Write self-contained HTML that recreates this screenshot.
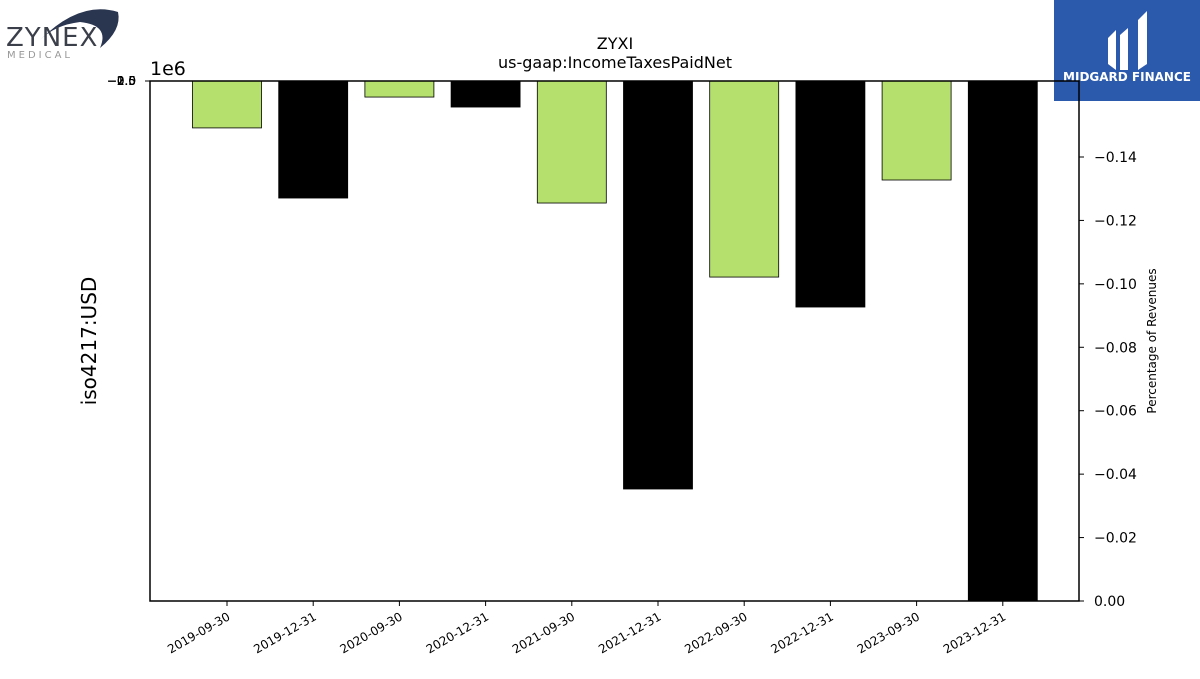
<!DOCTYPE html>
<html><head><meta charset="utf-8"><style>
body{margin:0;background:#fff;width:1200px;height:675px;overflow:hidden;font-family:"DejaVu Sans","Liberation Sans",sans-serif;}
</style></head><body>
<svg width="1200" height="675" id="chart" xmlns="http://www.w3.org/2000/svg" font-family="DejaVu Sans, Liberation Sans, sans-serif">
<g>
<path d="M40,40 Q80,0 118,12 Q122,30 100,48 Q110,25 80,22 Q55,25 40,40Z" fill="#2a3550"/>
<text x="6" y="46" font-size="26" fill="#3a3f4a" letter-spacing="1">ZYNEX</text>
<text x="7" y="58" font-size="10" fill="#999" letter-spacing="3">MEDICAL</text>
</g>
<g>
<rect x="1054" y="0" width="146" height="101" fill="#2b5aad"/>
<path d="M1108,38 L1116,30 L1116,70 L1108,64Z M1120,35 L1128,28 L1128,70 L1120,70Z M1138,20 L1147,11 L1147,64 L1138,70Z" fill="#fff"/>
<text x="1127" y="81" font-size="12" font-weight="bold" fill="#fff" text-anchor="middle">MIDGARD FINANCE</text>
</g>
<text x="615" y="49" font-size="16" text-anchor="middle">ZYXI</text>
<text x="615" y="68" font-size="16" text-anchor="middle">us-gaap:IncomeTaxesPaidNet</text>
<text x="150" y="75" font-size="19">1e6</text>
<g id="bars"></g>
<g id="axes"></g>
<text transform="translate(96,341) rotate(-90)" font-size="20" text-anchor="middle">iso4217:USD</text>
<text transform="translate(1156,341) rotate(-90)" font-size="12" text-anchor="middle">Percentage of Revenues</text>
</svg>
<script>
const categories=["2019-09-30","2019-12-31","2020-09-30","2020-12-31","2021-09-30","2021-12-31","2022-09-30","2022-12-31","2023-09-30","2023-12-31"];
const values=[-0.263e6,-0.656e6,-0.090e6,-0.146e6,-0.684e6,-2.287e6,-1.099e6,-1.267e6,-0.555e6,-2.95e6];
const leftTicks=[0,-0.5,-1.0,-1.5,-2.0,-2.5];
const leftTickLabels=["0.0","\u22120.5","\u22121.0","\u22121.5","\u22122.0","\u22122.5"];
const rightTicks=[0,-0.02,-0.04,-0.06,-0.08,-0.10,-0.12,-0.14];
const rightTickLabels=["0.00","\u22120.02","\u22120.04","\u22120.06","\u22120.08","\u22120.10","\u22120.12","\u22120.14"];
const X0=150,X1=1079,Y0=81,Y1=601;
const yL=v=>Y0+(-v/1e6)*178.4;
const yR=v=>Y1-(-v/0.02)*63.43;
const step=86.2,first=227;
const xC=i=>first+i*step;
const NS="http://www.w3.org/2000/svg";
const bars=document.getElementById('bars'),axes=document.getElementById('axes');
function mk(tag,a,p){const e=document.createElementNS(NS,tag);for(const k in a)e.setAttribute(k,a[k]);p.appendChild(e);return e;}
values.forEach((v,i)=>{
 const y=Math.min(yL(v),Y1);
 const r=mk('rect',{x:xC(i)-34.5,y:Y0,width:69,height:y-Y0,fill:i%2?'#000':'#b5e06e',stroke:'#000','stroke-width':0.8},bars);
 
 
 const t=mk('line',{x1:xC(i),x2:xC(i),y1:Y1,y2:Y1+5,stroke:'#000'},axes);
 const l=mk('text',{transform:`translate(${xC(i)+4},${Y1+18}) rotate(-30)`,'font-size':12,'text-anchor':'end'},axes);
 l.textContent=categories[i];
 
 
});
const fr=mk('rect',{x:X0,y:Y0,width:X1-X0,height:Y1-Y0,fill:'none',stroke:'#000','stroke-width':1.5},axes);


leftTicks.forEach((v,i)=>{const y=yL(v);mk('line',{x1:X0-5,x2:X0,y1:y,y2:y,stroke:'#000'},axes);
 const t=mk('text',{x:X0-14,y:y+4,'font-size':12,'text-anchor':'end'},axes);t.textContent=leftTickLabels[i];
 
 });
rightTicks.forEach((v,i)=>{const y=yR(v);mk('line',{x1:X1,x2:X1+5,y1:y,y2:y,stroke:'#000'},axes);
 const t=mk('text',{x:X1+15,y:y+5,'font-size':14},axes);t.textContent=rightTickLabels[i];
 
 });
</script>
</body></html>
